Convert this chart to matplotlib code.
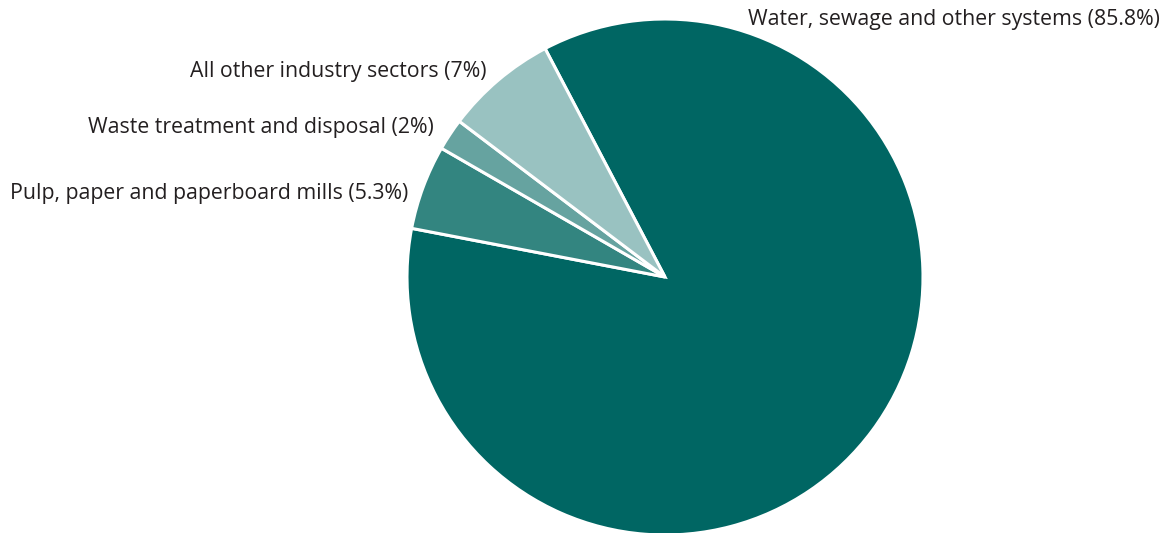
import matplotlib
matplotlib.use("Agg")
import matplotlib.pyplot as plt

# values in %, clockwise from the top
sectors = ["Water, sewage and other systems", "Pulp, paper and paperboard mills",
           "Waste treatment and disposal", "All other industry sectors"]
shares = [85.8, 5.3, 2, 7]
share_text = ["85.8%", "5.3%", "2%", "7%"]
colours = ["#006663", "#338580", "#66a3a0", "#99c2c1"]

# label anchors in pixels (right edge, vertical centre)
label_pos = [(1160, 20), (408, 193), (434, 127), (487, 72)]

W, H = 1173, 533
fig = plt.figure(figsize=(W / 100, H / 100), dpi=100)

cx, cy, r = 665, 277, 258
ax = fig.add_axes([(cx - r) / W, (H - cy - r) / H, 2 * r / W, 2 * r / H])
ax.pie(shares, colors=colours, startangle=117.7, counterclock=False,
       wedgeprops=dict(edgecolor="white", linewidth=2.2))
ax.set_xlim(-1, 1)
ax.set_ylim(-1, 1)
ax.set_aspect("equal")
ax.axis("off")

for name, s, (x, y) in zip(sectors, share_text, label_pos):
    fig.text(x / W, 1 - y / H, f"{name} ({s})", ha="right", va="center",
             fontsize=15.3, family="Open Sans", color="#231f20")

fig.savefig("out.png", dpi=100)
